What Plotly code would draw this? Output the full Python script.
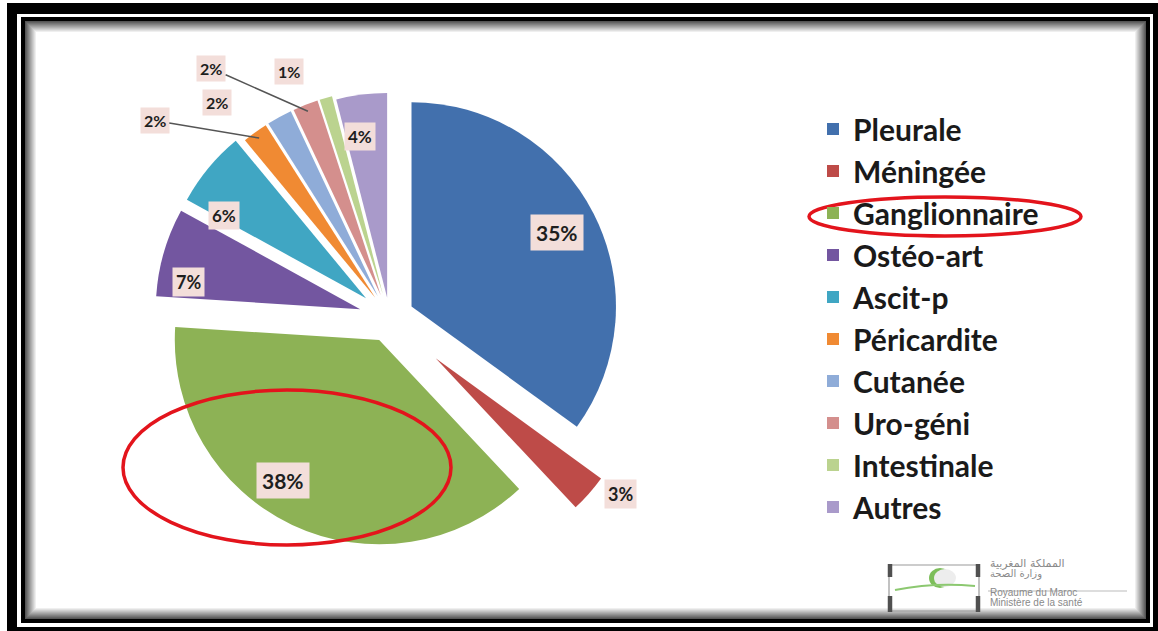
import math
import plotly.graph_objects as go

# Localisations of extra-pulmonary tuberculosis (share of cases, %)
categories = ["Pleurale", "Méningée", "Ganglionnaire", "Ostéo-art", "Ascit-p",
              "Péricardite", "Cutanée", "Uro-géni", "Intestinale", "Autres"]
percentages = [35, 3, 38, 7, 6, 2, 2, 2, 1, 4]

# ---- styling -------------------------------------------------------------
slice_colors = ["#4270AD", "#BE4B48", "#8DB255", "#7356A0", "#40A6C3",
                "#F08A33", "#8FACD8", "#D48F8D", "#BBD38F", "#A99ACA"]
pulls = [0.12, 0.30, 0.12, 0.15, 0.15, 0.12, 0.12, 0.12, 0.12, 0.10]

# label placement: angular shift (deg), distance from centre (radii), font size, leader line
label_shift = [0, -4, 8, -6, -8, -14, -10, -14, -6, -2]
label_dist = [0.92, 1.42, 0.95, 1.0, 0.95, 1.5, 1.35, 1.5, 1.3, 0.9]
label_size = [21, 18, 21, 18, 17, 16, 16, 16, 16, 17]
label_leader = [False, False, False, False, False, True, False, True, False, False]

W, H = 1158, 631
dom_x = [0.107, 0.566]
dom_y = [0.075, 0.918]
FONT = "Lato"


def px(x):
    return x / W


def py(y):
    return 1 - y / H


fig = go.Figure(go.Pie(
    labels=categories,
    values=percentages,
    sort=False,
    direction="clockwise",
    rotation=0,
    pull=pulls,
    marker=dict(colors=slice_colors, line=dict(width=0)),
    textinfo="none",
    hoverinfo="label+percent",
    domain=dict(x=dom_x, y=dom_y),
))

# pie geometry, as plotly lays it out
box_w = W * (dom_x[1] - dom_x[0])
box_h = H * (dom_y[1] - dom_y[0])
radius = min(box_w, box_h) / 2 / (1 + max(pulls))
cx = W * (dom_x[0] + dom_x[1]) / 2
cy = H * (1 - dom_y[0]) - box_h / 2

total = sum(percentages)
annotations = []
cum = 0
for i, val in enumerate(percentages):
    mid = (cum + val / 2) / total * 360
    cum += val
    ang = math.radians(mid + label_shift[i])
    lx = cx + radius * label_dist[i] * math.sin(ang)
    ly = cy - radius * label_dist[i] * math.cos(ang)
    txt = f"<b>{round(val / total * 100)}%</b>"
    common = dict(text=txt, xref="paper", yref="paper",
                  xanchor="center", yanchor="middle",
                  font=dict(family=FONT, size=label_size[i], color="#1E1E1E"),
                  bgcolor="#F3DEDA", borderpad=5 if label_size[i] > 20 else 3)
    if label_leader[i]:
        m = math.radians(mid)
        tip = radius * (1 + pulls[i]) * 0.97
        tx = cx + tip * math.sin(m)
        ty = cy - tip * math.cos(m)
        annotations.append(dict(x=px(tx), y=py(ty), ax=lx - tx, ay=ly - ty,
                                showarrow=True, arrowhead=0, arrowwidth=1.5,
                                arrowcolor="#555555", standoff=0, **common))
    else:
        annotations.append(dict(x=px(lx), y=py(ly), showarrow=False, **common))

# ministry logo text
logo_grey = "#8A8A8A"
annotations += [
    dict(x=px(988), y=py(572), text="المملكة المغربية", showarrow=False,
         xanchor="left", xref="paper", yref="paper",
         font=dict(family="DejaVu Sans", size=11, color=logo_grey)),
    dict(x=px(988), y=py(582), text="وزارة الصحة", showarrow=False,
         xanchor="left", xref="paper", yref="paper",
         font=dict(family="DejaVu Sans", size=10, color=logo_grey)),
    dict(x=px(988), y=py(600), text="Royaume du Maroc", showarrow=False,
         xanchor="left", xref="paper", yref="paper",
         font=dict(family="Liberation Sans", size=10, color=logo_grey)),
    dict(x=px(988), y=py(610), text="Ministère de la santé", showarrow=False,
         xanchor="left", xref="paper", yref="paper",
         font=dict(family="Liberation Sans", size=10, color=logo_grey)),
]


def rect(x0, y0, x1, y1, fill, layer="below"):
    return dict(type="rect", xref="paper", yref="paper",
                x0=px(x0), x1=px(x1), y0=py(y1), y1=py(y0),
                fillcolor=fill, line=dict(width=0), layer=layer)


# picture frame: thick black border, white gap, thin black line, inner shadow
shapes = [
    rect(7, 3, W + 2, H + 2, "black"),
    rect(17, 14, 1153, 627, "white"),
    rect(21, 17, 1150, 623, "black"),
]
for k in range(12):
    g = int(70 + (255 - 70) * (k + 1) / 12)
    shapes.append(rect(25 + k, 21 + k, 1146 - k, 619 - k, f"rgb({g},{g},{g})"))

# logo: bracket frame with green crescent
shapes += [
    dict(type="rect", xref="paper", yref="paper", x0=px(889), x1=px(979),
         y0=py(611), y1=py(565), line=dict(color="#9A9A9A", width=1.2),
         layer="above"),
    dict(type="line", xref="paper", yref="paper", x0=px(890), x1=px(890),
         y0=py(564), y1=py(577), line=dict(color="#505050", width=4.5)),
    dict(type="line", xref="paper", yref="paper", x0=px(890), x1=px(890),
         y0=py(596), y1=py(612), line=dict(color="#505050", width=4.5)),
    dict(type="line", xref="paper", yref="paper", x0=px(978), x1=px(978),
         y0=py(564), y1=py(577), line=dict(color="#505050", width=4.5)),
    dict(type="line", xref="paper", yref="paper", x0=px(978), x1=px(978),
         y0=py(596), y1=py(612), line=dict(color="#505050", width=4.5)),
    dict(type="circle", xref="paper", yref="paper", x0=px(929), x1=px(951),
         y0=py(588), y1=py(568), fillcolor="#7DBE5A", line=dict(width=0)),
    dict(type="circle", xref="paper", yref="paper", x0=px(934), x1=px(956),
         y0=py(587), y1=py(569), fillcolor="#EDEDED", line=dict(width=0)),
    dict(type="path", xref="paper", yref="paper",
         path=f"M {px(895)} {py(590)} Q {px(935)} {py(582)} {px(975)} {py(586)}",
         line=dict(color="#8CC870", width=2)),
    dict(type="line", xref="paper", yref="paper", x0=px(988), x1=px(1127),
         y0=py(591), y1=py(591), line=dict(color="#BBBBBB", width=1)),
]

# red highlight ellipses
red = "#E3141C"
shapes += [
    dict(type="circle", xref="paper", yref="paper", x0=px(809), x1=px(1081),
         y0=py(236), y1=py(197), line=dict(color=red, width=3.5), layer="above"),
    dict(type="circle", xref="paper", yref="paper", x0=px(123), x1=px(451),
         y0=py(545), y1=py(390), line=dict(color=red, width=3.5), layer="above"),
]

fig.update_layout(
    width=W, height=H,
    margin=dict(l=0, r=0, t=0, b=0),
    paper_bgcolor="white",
    showlegend=True,
    legend=dict(x=px(813), y=py(103), xanchor="left", yanchor="top",
                font=dict(family=FONT, size=30, color="#1A1A1A", weight="bold"),
                bgcolor="rgba(0,0,0,0)"),
    shapes=shapes,
    annotations=annotations,
)

fig.write_html("out.html")
